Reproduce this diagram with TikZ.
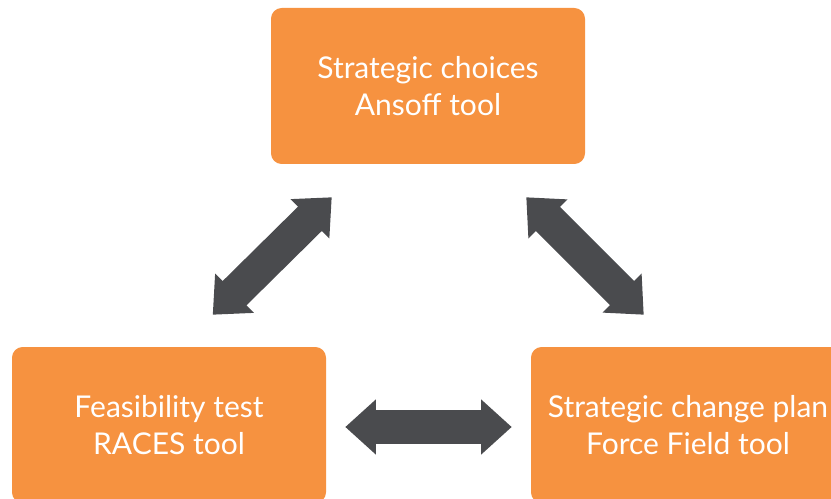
\documentclass[tikz,border=0pt]{standalone}
\usepackage{fontspec}
\setmainfont{Lato}
\usetikzlibrary{arrows.meta,calc,positioning}

\definecolor{boxorange}{HTML}{F69240}
\definecolor{arrowgrey}{HTML}{4A4B4E}

\tikzset{
  stage/.style={fill=boxorange, rounded corners=8pt, minimum width=235.5pt,
    minimum height=117pt, align=center, text=white,
    font=\fontsize{22.5}{28}\selectfont},
  bigarrow/.style={arrowgrey, line width=25.5pt,
    {Triangle[width=40pt,length=23pt]}-{Triangle[width=40pt,length=23pt]}}
}

\begin{document}
\begin{tikzpicture}[x=0.75pt,y=-0.75pt]
  \useasboundingbox (0,0) rectangle (831,499);
  \clip (0,0) rectangle (831,499);
  % the three stages
  \node[stage] (choice) at (428,86) {Strategic choices\\Ansoff tool};
  \node[stage] (feasible) at (169,425) {Feasibility test\\RACES tool};
  \node[stage] (plan) at (688,425) {Strategic change plan\\Force Field tool};
  % arrow end points near the boxes
  \coordinate (c1) at ($(choice.south west)+(61,33)$);
  \coordinate (f1) at ($(feasible.north west)+(201,-32)$);
  \coordinate (c2) at ($(choice.south east)+(-59,33)$);
  \coordinate (p1) at ($(plan.north west)+(113,-32)$);
  % two-way arrows between the stages
  \draw[bigarrow] (f1) -- (c1);
  \draw[bigarrow] (c2) -- (p1);
  \draw[bigarrow, shorten <=14.25pt, shorten >=14.25pt] ($(feasible.east)+(0,2)$) -- ($(plan.west)+(0,2)$);
\end{tikzpicture}
\end{document}
